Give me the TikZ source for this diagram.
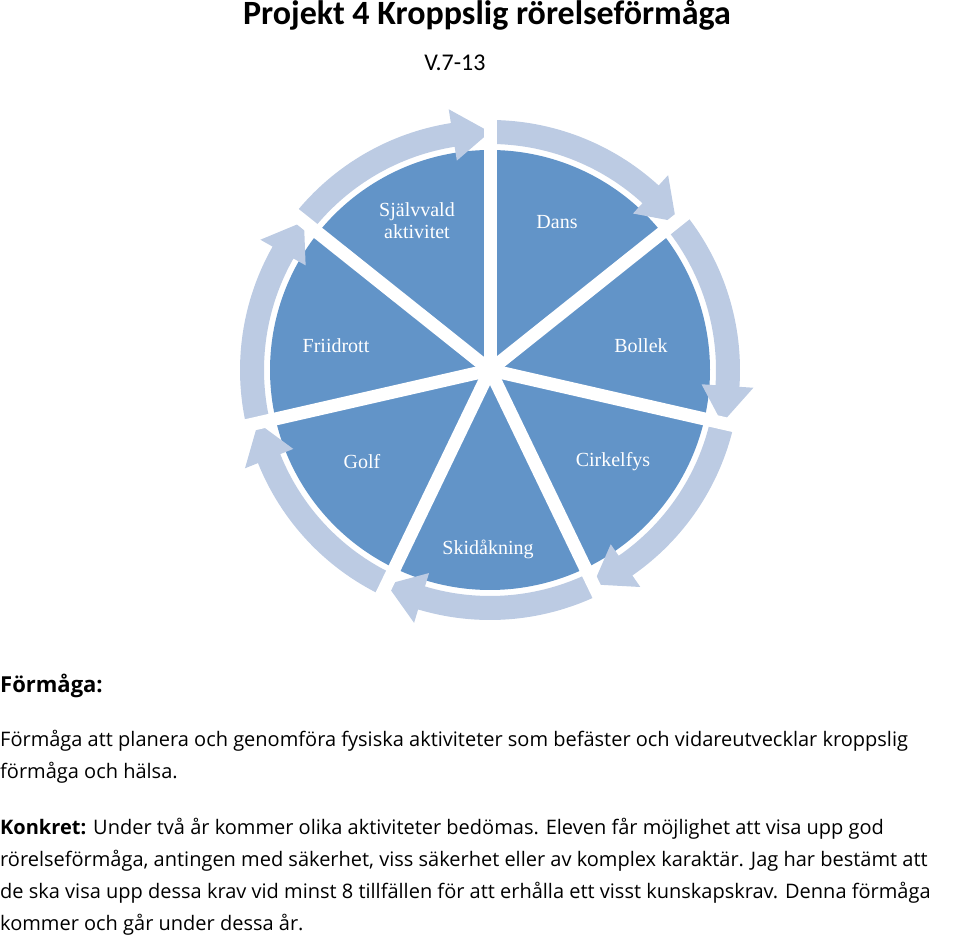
\documentclass[tikz,border=0pt]{standalone}
\usepackage{fontspec}
\setmainfont{Open Sans}
\newfontfamily\titlefont{Carlito}
\newfontfamily\piefont{Liberation Serif}
\usetikzlibrary{calc}
\definecolor{pieblue}{RGB}{98,148,200}
\definecolor{ringblue}{RGB}{188,203,227}
\tikzset{
  wedge/.style={fill=pieblue},
  ringarrow/.style={fill=ringblue},
  gapline/.style={draw=white, line width=13pt},
  pielabel/.style={text=white, font=\piefont\fontsize{20}{22}\selectfont, align=center},
  bodyline/.style={anchor=west, inner sep=0, font=\fontsize{20}{22}\selectfont}
}
\begin{document}
\begin{tikzpicture}[x=1pt, y=1pt]
  \useasboundingbox (0,0) rectangle (960,-944);
  \coordinate (C) at (490,-370);

  \node[font=\titlefont\bfseries\fontsize{34}{36}\selectfont]
    (title) at (487,-15) {Projekt 4 Kroppslig rörelseförmåga};
  \node[font=\titlefont\fontsize{24}{26}\selectfont]
    (weeks) at (455,-63) {V.7-13};

  \foreach \i in {0,...,6} {
    \pgfmathsetmacro{\a}{90-360/7*\i}
    \pgfmathsetmacro{\b}{90-360/7*(\i+1)}
    \fill[wedge] (C) -- ($(C)+(\a:220)$)
      arc[start angle=\a, end angle=\b, radius=220] -- cycle;
    \fill[ringarrow] ($(C)+(\a:226)$)
      arc[start angle=\a, end angle=\b+9, radius=226]
      -- ($(C)+(\b+9:212)$) -- ($(C)+(\b:238)$) -- ($(C)+(\b+9:264)$)
      -- ($(C)+(\b+9:250)$)
      arc[start angle=\b+9, end angle=\a, radius=250] -- cycle;
  }
  \foreach \i in {0,...,6}
    \draw[gapline] (C) -- ($(C)+(90-360/7*\i:268)$);

  \node[pielabel] (sjalv) at (417,-221) {Självvald\\aktivitet};
  \node[pielabel] (dans)  at (557,-222) {Dans};
  \node[pielabel] (boll)  at (641,-346) {Bollek};
  \node[pielabel] (cirk)  at (613,-462) {Cirkelfys};
  \node[pielabel] (skid)  at (488,-549) {Skidåkning};
  \node[pielabel] (golf)  at (362,-462) {Golf};
  \node[pielabel] (fri)   at (336,-346) {Friidrott};

  \node[bodyline, font=\bfseries\fontsize{22}{24}\selectfont]
    (head) at (0,-686) {Förmåga:};
  \node[bodyline] (l1) at (0,-741) {Förmåga att planera och genomföra fysiska aktiviteter som befäster och vidareutvecklar kroppslig};
  \node[bodyline] (l2) at (0,-773) {förmåga och hälsa.};
  \node[bodyline] (l3) at (0,-829) {\textbf{Konkret:} Under två år kommer olika aktiviteter bedömas. Eleven får möjlighet att visa upp god};
  \node[bodyline] (l4) at (0,-861) {rörelseförmåga, antingen med säkerhet, viss säkerhet eller av komplex karaktär. Jag har bestämt att};
  \node[bodyline] (l5) at (0,-893) {de ska visa upp dessa krav vid minst 8 tillfällen för att erhålla ett visst kunskapskrav. Denna förmåga};
  \node[bodyline] (l6) at (0,-925) {kommer och går under dessa år.};
\end{tikzpicture}
\end{document}
